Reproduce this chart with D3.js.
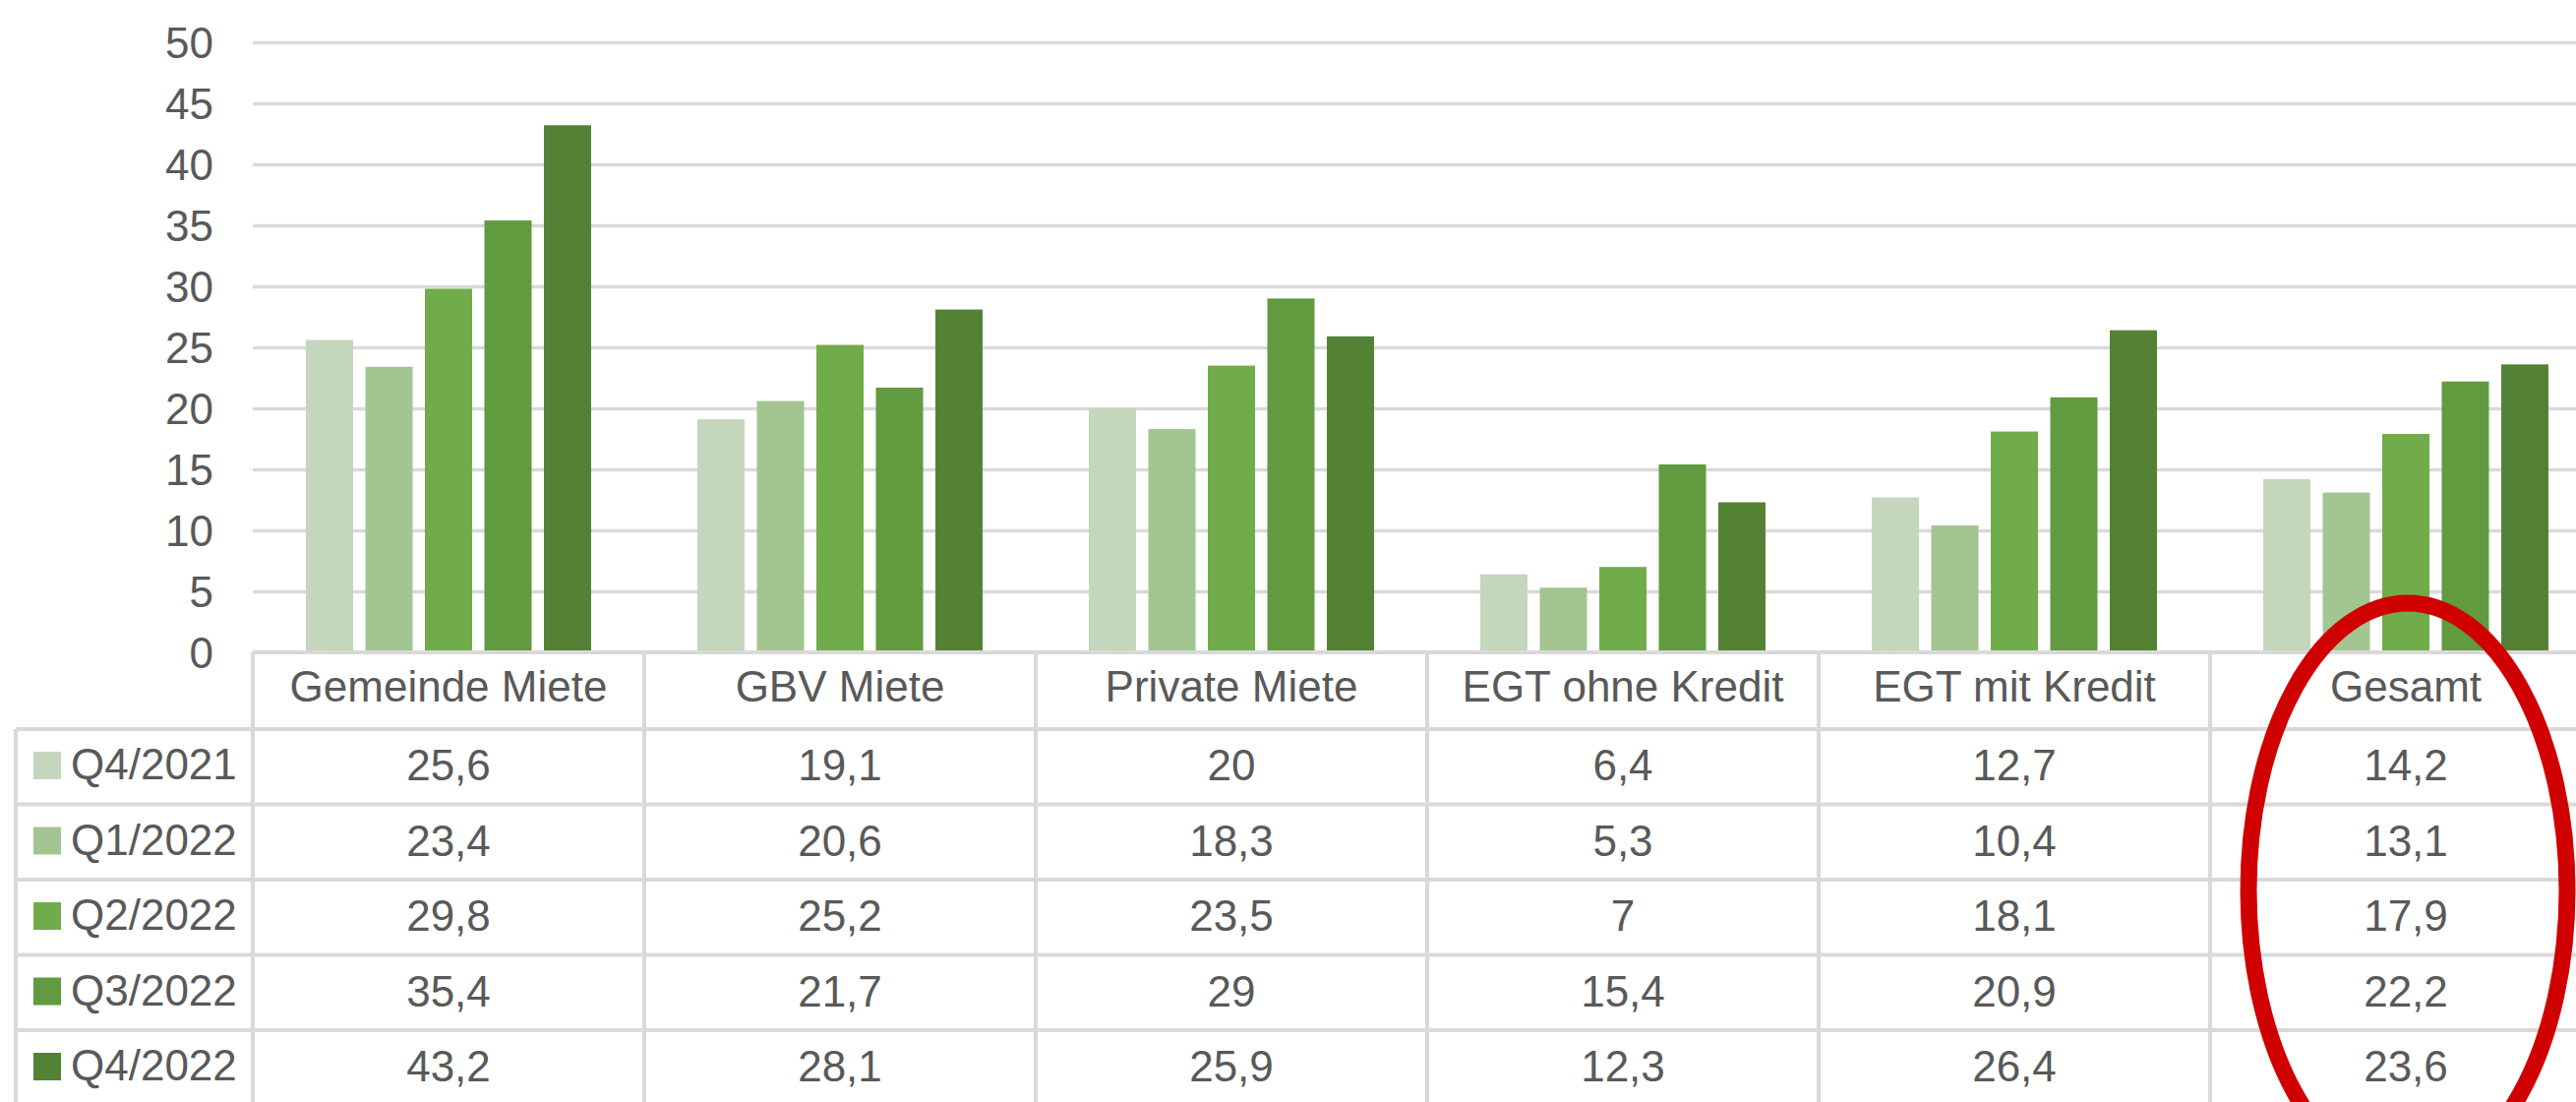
<!DOCTYPE html>
<html>
<head>
<meta charset="utf-8">
<script src="https://cdn.jsdelivr.net/npm/d3@7"></script>
<style>
  html, body { margin: 0; padding: 0; background: #fff; }
  svg text { font-family: "Liberation Sans", Arial, sans-serif; fill: #595959; }
</style>
</head>
<body>
<div id="chart"></div>
<script>
var categories = ["Gemeinde Miete", "GBV Miete", "Private Miete", "EGT ohne Kredit", "EGT mit Kredit", "Gesamt"];
var seriesNames = ["Q4/2021", "Q1/2022", "Q2/2022", "Q3/2022", "Q4/2022"];
var q4_2021 = [25.6, 19.1, 20, 6.4, 12.7, 14.2];
var q1_2022 = [23.4, 20.6, 18.3, 5.3, 10.4, 13.1];
var q2_2022 = [29.8, 25.2, 23.5, 7, 18.1, 17.9];
var q3_2022 = [35.4, 21.7, 29, 15.4, 20.9, 22.2];
var q4_2022 = [43.2, 28.1, 25.9, 12.3, 26.4, 23.6];
var yTicks = [0, 5, 10, 15, 20, 25, 30, 35, 40, 45, 50];

var seriesValues = [q4_2021, q1_2022, q2_2022, q3_2022, q4_2022];
var colors = ["#c4d7bc", "#a3c591", "#71ac4a", "#629a3f", "#548235"];

// Layout
var width = 2619, height = 1120;
var plotLeft = 257, bandW = 398;
var zeroY = 663, topY = 43;
var headerH = 78, rowH = 76.5, tableLeft = 16;
var gridColor = "#d9d9d9";

var svg = d3.select("#chart")
    .append("svg")
    .attr("width", width)
    .attr("height", height);

// Scales
var x = d3.scaleBand()
    .domain(categories)
    .range([plotLeft, plotLeft + bandW * categories.length]);

var x1 = d3.scaleBand()
    .domain(seriesNames)
    .range([0, x.bandwidth()])
    .paddingInner(0.2066)
    .paddingOuter(0.893);

var y = d3.scaleLinear()
    .domain([0, 50])
    .range([zeroY, topY]);

// Gridlines
svg.append("g")
    .attr("class", "grid")
    .attr("transform", "translate(" + plotLeft + ",0)")
    .call(d3.axisLeft(y).tickValues(yTicks.slice(1)).tickSize(-(width - plotLeft)).tickFormat(""))
    .call(function(g) { g.select(".domain").remove(); })
    .selectAll("line")
    .attr("stroke", gridColor)
    .attr("stroke-width", 3.5);

// Y axis labels
svg.append("g")
    .attr("class", "y-axis")
    .attr("transform", "translate(217,0)")
    .call(d3.axisLeft(y).tickValues(yTicks).tickSize(0).tickPadding(0))
    .call(function(g) { g.select(".domain").remove(); })
    .selectAll("text")
    .attr("font-size", 44)
    .attr("fill", "#595959")
    .attr("font-family", "Liberation Sans, Arial, sans-serif")
    .attr("dy", "0.36em");

// Bars
var groups = svg.append("g")
    .selectAll("g")
    .data(seriesNames)
    .enter()
    .append("g")
    .attr("fill", function(d, i) { return colors[i]; });

groups.selectAll("rect")
    .data(function(d, i) {
        return categories.map(function(c, j) { return {cat: c, s: d, v: seriesValues[i][j]}; });
    })
    .enter()
    .append("rect")
    .attr("x", function(d) { return x(d.cat) + x1(d.s); })
    .attr("width", x1.bandwidth())
    .attr("y", function(d) { return y(d.v); })
    .attr("height", function(d) { return zeroY - y(d.v); });

// Data table
var table = svg.append("g").attr("class", "table");
var rowTop = function(i) { return zeroY + headerH + i * rowH; };
var fmt = function(v) { return String(v).replace(".", ","); };

// horizontal lines
table.append("line")
    .attr("x1", plotLeft).attr("x2", width)
    .attr("y1", zeroY).attr("y2", zeroY);
table.selectAll(".hline")
    .data(d3.range(seriesNames.length + 1))
    .enter()
    .append("line")
    .attr("class", "hline")
    .attr("x1", tableLeft).attr("x2", width)
    .attr("y1", function(i) { return rowTop(i); })
    .attr("y2", function(i) { return rowTop(i); });

// vertical lines
table.selectAll(".vline")
    .data(d3.range(categories.length + 1))
    .enter()
    .append("line")
    .attr("class", "vline")
    .attr("x1", function(i) { return plotLeft + i * bandW; })
    .attr("x2", function(i) { return plotLeft + i * bandW; })
    .attr("y1", zeroY).attr("y2", height);
table.append("line")
    .attr("x1", tableLeft).attr("x2", tableLeft)
    .attr("y1", rowTop(0)).attr("y2", height);

table.selectAll("line")
    .attr("stroke", gridColor)
    .attr("stroke-width", 4);

// category headers
table.selectAll(".cat")
    .data(categories)
    .enter()
    .append("text")
    .attr("class", "cat")
    .attr("x", function(d) { return x(d) + x.bandwidth() / 2; })
    .attr("y", zeroY + 50)
    .attr("text-anchor", "middle")
    .attr("font-size", 44)
    .text(function(d) { return d; });

// legend keys + series names
var rows = table.selectAll(".row")
    .data(seriesNames)
    .enter()
    .append("g")
    .attr("class", "row")
    .attr("transform", function(d, i) { return "translate(0," + rowTop(i) + ")"; });

rows.append("rect")
    .attr("x", 34)
    .attr("y", 23)
    .attr("width", 28)
    .attr("height", 28)
    .attr("fill", function(d, i) { return colors[i]; });

rows.append("text")
    .attr("x", 72)
    .attr("y", 51)
    .attr("font-size", 44)
    .text(function(d) { return d; });

rows.selectAll(".val")
    .data(function(d, i) { return seriesValues[i]; })
    .enter()
    .append("text")
    .attr("class", "val")
    .attr("x", function(v, j) { return x(categories[j]) + x.bandwidth() / 2; })
    .attr("y", 52)
    .attr("text-anchor", "middle")
    .attr("font-size", 44)
    .text(fmt);

// Red highlight ellipse round "Gesamt"
svg.append("ellipse")
    .attr("cx", x("Gesamt") + x.bandwidth() / 2 + 2)
    .attr("cy", 905)
    .attr("rx", 162)
    .attr("ry", 292)
    .attr("fill", "none")
    .attr("stroke", "#d10000")
    .attr("stroke-width", 17);
</script>
</body>
</html>
